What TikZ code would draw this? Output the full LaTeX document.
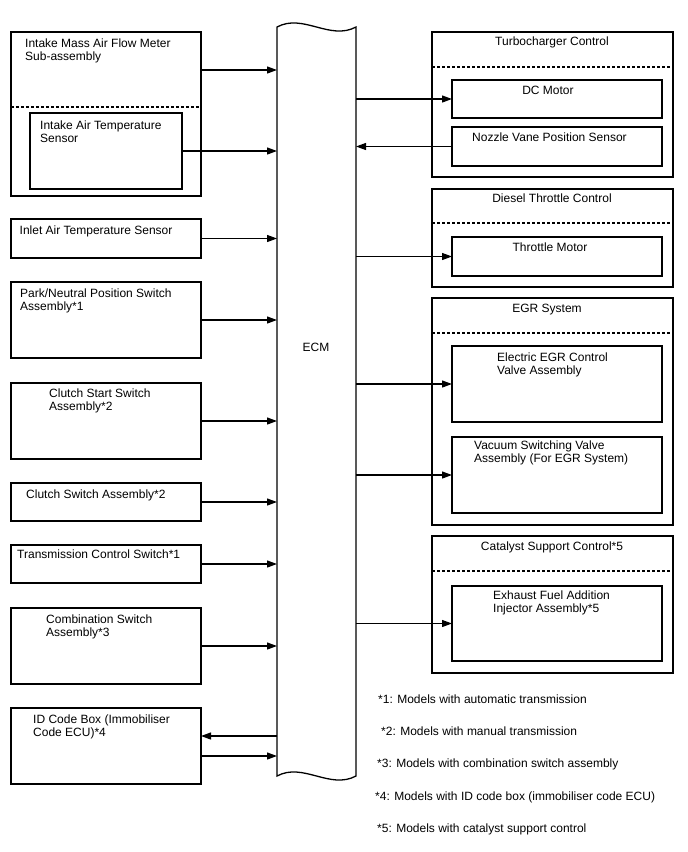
\documentclass[tikz,border=0pt]{standalone}
\usepackage{fontspec}
\setmainfont{Liberation Sans}
\usetikzlibrary{arrows.meta}

\begin{document}
\begin{tikzpicture}[
  x=1pt, y=-1pt,
  font=\fontsize{12}{13}\selectfont,
  box/.style={draw, line width=1.3pt, inner sep=0pt, outer sep=0pt, anchor=north west},
  lbl/.style={inner sep=0pt, align=left, anchor=base west},
  head/.style={inner sep=0pt, anchor=base},
  sep/.style={line width=1.1pt, dash pattern=on 3pt off 2pt},
  arr/.style={-{Triangle[length=10pt, width=7pt]}, line width=1.2pt}
]
  \fill[white] (0,0) rectangle (688,852);
  \useasboundingbox (0,0) rectangle (688,852);

  % ECM
  \node[inner sep=0pt, outer sep=0pt, anchor=north west, minimum width=79pt, minimum height=749pt] (ecm) at (277,27) {};
  \draw[line width=1.3pt] (ecm.north west) .. controls +(26,-14) and +(-26,14) .. (ecm.north east)
    -- (ecm.south east) .. controls +(-26,14) and +(26,-14) .. (ecm.south west) -- cycle;
  \node[head] (ecmtxt) at (316,351) {ECM};

  % left side
  \node[box, minimum width=190pt, minimum height=164pt] (maf) at (11,32) {};
  \node[box, minimum width=152pt, minimum height=76pt] (iat) at (30,113) {};
  \node[box, minimum width=190pt, minimum height=39pt] (inlet) at (11,219) {};
  \node[box, minimum width=190pt, minimum height=76pt] (pnp) at (11,282) {};
  \node[box, minimum width=190pt, minimum height=76pt] (css) at (11,383) {};
  \node[box, minimum width=190pt, minimum height=38pt] (csw) at (11,483) {};
  \node[box, minimum width=190pt, minimum height=38pt] (tcs) at (11,545) {};
  \node[box, minimum width=190pt, minimum height=76pt] (cmb) at (11,608) {};
  \node[box, minimum width=190pt, minimum height=76pt] (idb) at (11,708) {};
  \draw[sep] (maf.west |- 0,107) -- (maf.east |- 0,107);

  \node[lbl] (maftxt) at (25,60) {Intake Mass Air Flow Meter\\Sub-assembly};
  \node[lbl] (iattxt) at (40,142) {Intake Air Temperature\\Sensor};
  \node[lbl] (inlettxt) at (19.5,234) {Inlet Air Temperature Sensor};
  \node[lbl] (pnptxt) at (20,310) {Park/Neutral Position Switch\\Assembly*1};
  \node[lbl] (csstxt) at (49,410) {Clutch Start Switch\\Assembly*2};
  \node[lbl] (cswtxt) at (26,498) {Clutch Switch Assembly*2};
  \node[lbl] (tcstxt) at (17,558) {Transmission Control Switch*1};
  \node[lbl] (cmbtxt) at (46,636) {Combination Switch\\Assembly*3};
  \node[lbl] (idbtxt) at (33,736) {ID Code Box (Immobiliser\\Code ECU)*4};

  % right side
  \node[box, minimum width=241pt, minimum height=145pt] (turbo) at (432,32) {};
  \node[box, minimum width=241pt, minimum height=98pt] (dtc) at (432,189) {};
  \node[box, minimum width=241pt, minimum height=227pt] (egr) at (432,298) {};
  \node[box, minimum width=241pt, minimum height=137pt] (cat) at (432,536) {};
  \node[box, minimum width=210pt, minimum height=38pt] (dcm) at (452,80) {};
  \node[box, minimum width=210pt, minimum height=39pt] (nvp) at (452,127) {};
  \node[box, minimum width=210pt, minimum height=39pt] (thm) at (452,237) {};
  \node[box, minimum width=210pt, minimum height=76pt] (eegr) at (452,346) {};
  \node[box, minimum width=210pt, minimum height=76pt] (vsv) at (452,437) {};
  \node[box, minimum width=210pt, minimum height=75pt] (efi) at (452,586) {};
  \draw[sep] (turbo.west |- 0,67) -- (turbo.east |- 0,67);
  \draw[sep] (dtc.west |- 0,223) -- (dtc.east |- 0,223);
  \draw[sep] (egr.west |- 0,333) -- (egr.east |- 0,333);
  \draw[sep] (cat.west |- 0,571) -- (cat.east |- 0,571);

  \node[head] (turbotxt) at (552,45) {Turbocharger Control};
  \node[head] (dcmtxt) at (548,94) {DC Motor};
  \node[lbl] (nvptxt) at (472,141) {Nozzle Vane Position Sensor};
  \node[head] (dtctxt) at (552,202) {Diesel Throttle Control};
  \node[head] (thmtxt) at (550,251) {Throttle Motor};
  \node[head] (egrtxt) at (547,312) {EGR System};
  \node[lbl] (eegrtxt) at (497,374) {Electric EGR Control\\Valve Assembly};
  \node[lbl] (vsvtxt) at (474,462) {Vacuum Switching Valve\\Assembly (For EGR System)};
  \node[head] (cattxt) at (552,550) {Catalyst Support Control*5};
  \node[lbl] (efitxt) at (493,612) {Exhaust Fuel Addition\\Injector Assembly*5};

  % notes
  \node[lbl] (note1) at (378,703) {*1: Models with automatic transmission};
  \node[lbl] (note2) at (381,735) {*2: Models with manual transmission};
  \node[lbl] (note3) at (377,767) {*3: Models with combination switch assembly};
  \node[lbl] (note4) at (375,800) {*4: Models with ID code box (immobiliser code ECU)};
  \node[lbl] (note5) at (377,832) {*5: Models with catalyst support control};

  \draw[arr] ([yshift=44pt]maf.east) -- ([yshift=44pt]maf.east -| ecm.west);
  \draw[arr] (iat.east) -- (iat.east -| ecm.west);
  \draw[arr] (inlet.east) -- (inlet.east -| ecm.west);
  \draw[arr] (pnp.east) -- (pnp.east -| ecm.west);
  \draw[arr] (css.east) -- (css.east -| ecm.west);
  \draw[arr] (csw.east) -- (csw.east -| ecm.west);
  \draw[arr] (tcs.east) -- (tcs.east -| ecm.west);
  \draw[arr] (cmb.east) -- (cmb.east -| ecm.west);
  \draw[arr] ([yshift=10pt]idb.east -| ecm.west) -- ([yshift=10pt]idb.east);
  \draw[arr] ([yshift=-10pt]idb.east) -- ([yshift=-10pt]idb.east -| ecm.west);

  \draw[arr] (dcm.west -| ecm.east) -- (dcm.west);
  \draw[arr] (nvp.west) -- (nvp.west -| ecm.east);
  \draw[arr] (thm.west -| ecm.east) -- (thm.west);
  \draw[arr] (eegr.west -| ecm.east) -- (eegr.west);
  \draw[arr] (vsv.west -| ecm.east) -- (vsv.west);
  \draw[arr] (efi.west -| ecm.east) -- (efi.west);
\end{tikzpicture}
\end{document}
